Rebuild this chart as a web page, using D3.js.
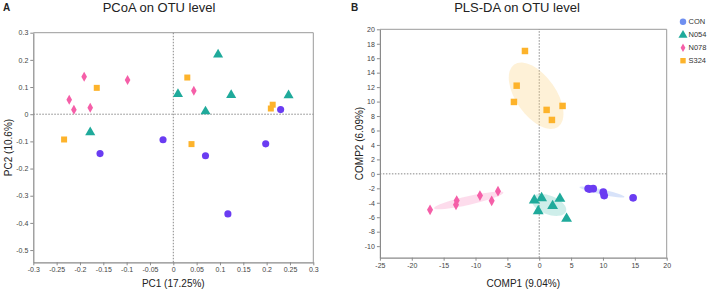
<!DOCTYPE html>
<html><head><meta charset="utf-8">
<script src="https://cdn.jsdelivr.net/npm/d3@7"></script>
<style>body{margin:0;background:#fff;} text{font-family:"Liberation Sans",Arial,sans-serif;}</style>
</head><body>
<svg id="chart" width="708" height="291"></svg>
<script>
// ---------- DATA ----------
const groups = ["CON", "N054", "N078", "S324"];
const groupColors = ["#6a3cf2", "#1faa9b", "#f55fa8", "#fdb32b"];
const legendColors = ["#6f8ff0", "#1faa9b", "#f55fa8", "#fdb32b"];
const ellipseColors = ["#7fa2ee", "#5cc8bb", "#f98cc0", "#fbcf7c"];

// Panel A: PCoA
const pcoaX = {
  CON:  [0.230, -0.022, -0.157, 0.198, 0.069, 0.117],
  N054: [0.096, 0.010, 0.124, 0.247, 0.069, -0.178],
  N078: [-0.191, -0.098, -0.223, -0.213, -0.178, 0.044],
  S324: [-0.164, 0.030, -0.234, 0.039, 0.213, 0.209]
};
const pcoaY = {
  CON:  [0.017, -0.094, -0.145, -0.109, -0.153, -0.367],
  N054: [0.221, 0.076, 0.072, 0.071, 0.012, -0.065],
  N078: [0.138, 0.126, 0.053, 0.016, 0.024, 0.086],
  S324: [0.097, 0.135, -0.093, -0.110, 0.035, 0.021]
};
const pcoaXTicks = [-0.3, -0.25, -0.2, -0.15, -0.1, -0.05, 0, 0.05, 0.1, 0.15, 0.2, 0.25, 0.3];
const pcoaYTicks = [-0.5, -0.4, -0.3, -0.2, -0.1, 0, 0.1, 0.2, 0.3];

// Panel B: PLS-DA
const plsX = {
  CON:  [7.68, 8.47, 10.05, 10.19, 14.73, 7.9],
  N054: [-0.78, 0.37, 3.24, 2.10, -0.16, 4.29],
  N078: [-17.13, -12.95, -13.06, -9.30, -7.46, -6.47],
  S324: [-2.24, -3.54, -3.97, 1.16, 3.66, 1.99]
};
const plsY = {
  CON:  [-2.03, -2.05, -2.53, -3.00, -3.32, -2.1],
  N054: [-3.60, -3.27, -3.37, -4.37, -5.07, -6.13],
  N078: [-4.98, -3.69, -4.28, -3.00, -3.73, -2.40],
  S324: [17.0, 12.2, 9.95, 8.85, 9.40, 7.46]
};
const plsXTicks = [-25, -20, -15, -10, -5, 0, 5, 10, 15, 20];
const plsYTicks = [-10, -8, -6, -4, -2, 0, 2, 4, 6, 8, 10, 12, 14, 16, 18, 20];

// ---------- DRAW ----------
const svg = d3.select("#chart");
const axisColor = "#8a8a8a";
const tickTextColor = "#444";

function symbolFor(g) {
  if (g === "CON") return d3.symbolCircle;
  if (g === "N054") return d3.symbolTriangle;
  if (g === "S324") return d3.symbolSquare;
  return null;
}
function drawMarker(sel, g, color, cx, cy, scale) {
  if (g === "N078") {
    const w = 2.8 * scale, h = 5 * scale;
    sel.append("path").attr("d", `M${cx},${cy - h}L${cx + w},${cy}L${cx},${cy + h}L${cx - w},${cy}Z`).attr("fill", color);
  } else {
    const size = g === "CON" ? 40 : g === "N054" ? 44 : 36;
    sel.append("path").attr("d", d3.symbol().type(symbolFor(g)).size(size * scale * scale)())
      .attr("transform", `translate(${cx},${cy + (g === "N054" ? 0.5 : 0)})`).attr("fill", color);
  }
}

function drawPanel(cfg) {
  const g = svg.append("g");
  const x = d3.scaleLinear().domain(cfg.xDomain).range(cfg.xRange);
  const y = d3.scaleLinear().domain(cfg.yDomain).range(cfg.yRange);
  const [x0, x1] = cfg.xRange, [y0, y1] = cfg.yRange;

  // frame top/right
  g.append("path").attr("d", `M${x0},${y1}H${x1}V${y0}`).attr("fill", "none").attr("stroke", "#9a9a9a").attr("stroke-width", 1);

  // zero lines
  g.append("line").attr("x1", x(0)).attr("x2", x(0)).attr("y1", y0).attr("y2", y1)
    .attr("stroke", "#888").attr("stroke-dasharray", "1.5,1.5").attr("stroke-width", 1);
  g.append("line").attr("x1", x0).attr("x2", x1).attr("y1", y(0)).attr("y2", y(0))
    .attr("stroke", "#888").attr("stroke-dasharray", "1.5,1.5").attr("stroke-width", 1);

  // axes
  const xa = g.append("g").attr("transform", `translate(0,${y0})`)
    .call(d3.axisBottom(x).tickValues(cfg.xTicks).tickSize(3).tickPadding(2).tickSizeOuter(0).tickFormat(d => String(d)));
  const ya = g.append("g").attr("transform", `translate(${x0},0)`)
    .call(d3.axisLeft(y).tickValues(cfg.yTicks).tickSize(3).tickPadding(2).tickSizeOuter(0).tickFormat(d => String(d)));
  [xa, ya].forEach(a => {
    a.select(".domain").attr("stroke", axisColor).attr("stroke-width", 1.2);
    a.selectAll(".tick line").attr("stroke", axisColor);
    a.selectAll(".tick text").attr("fill", tickTextColor).style("font-size", "7px").style("font-family", "Liberation Sans, Arial, sans-serif");
  });

  // ellipses
  if (cfg.ellipse) {
    groups.forEach((grp, gi) => {
      const pts = cfg.xs[grp].map((v, i) => [x(v), y(cfg.ys[grp][i])]);
      const n = pts.length;
      const mx = d3.mean(pts, p => p[0]), my = d3.mean(pts, p => p[1]);
      let sxx = 0, syy = 0, sxy = 0;
      pts.forEach(p => { const dx = p[0] - mx, dy = p[1] - my; sxx += dx * dx; syy += dy * dy; sxy += dx * dy; });
      sxx /= (n - 1); syy /= (n - 1); sxy /= (n - 1);
      const tr = sxx + syy, det = sxx * syy - sxy * sxy;
      const disc = Math.sqrt(Math.max(0, tr * tr / 4 - det));
      const l1 = tr / 2 + disc, l2 = Math.max(0, tr / 2 - disc);
      const ang = Math.atan2(l1 - sxx, sxy) * 180 / Math.PI;
      const k = 1.35;
      g.append("ellipse").attr("cx", mx).attr("cy", my)
        .attr("rx", k * Math.sqrt(l1)).attr("ry", Math.max(2.5, k * Math.sqrt(l2)))
        .attr("transform", `rotate(${ang},${mx},${my})`)
        .attr("fill", ellipseColors[gi]).attr("fill-opacity", 0.3);
    });
  }

  // points
  groups.forEach((grp, gi) => {
    cfg.xs[grp].forEach((v, i) => drawMarker(g, grp, groupColors[gi], x(v), y(cfg.ys[grp][i]), cfg.markerScale));
  });

  // labels
  g.append("text").attr("x", (x0 + x1) / 2).attr("y", 287).attr("text-anchor", "middle")
    .style("font-size", "10px").attr("fill", "#222").text(cfg.xLabel);
  g.append("text").attr("transform", `translate(${cfg.yLabelX},${(y0 + y1) / 2}) rotate(-90)`).attr("text-anchor", "middle")
    .style("font-size", "10px").attr("fill", "#222").text(cfg.yLabel);
  g.append("text").attr("x", cfg.titleX).attr("y", 12).attr("text-anchor", "middle")
    .style("font-size", "13px").attr("fill", "#222").text(cfg.title);
  g.append("text").attr("x", cfg.letterX).attr("y", 11).style("font-size", "10px").style("font-weight", "bold")
    .attr("fill", "#222").text(cfg.letter);
}

drawPanel({
  xDomain: [-0.3, 0.3], xRange: [33.3, 313.3],
  yDomain: [-0.545, 0.3], yRange: [262.3, 32.7],
  xTicks: pcoaXTicks, yTicks: pcoaYTicks,
  xs: pcoaX, ys: pcoaY, ellipse: false, markerScale: 1,
  xLabel: "PC1 (17.25%)", yLabel: "PC2 (10.6%)", yLabelX: 12,
  title: "PCoA on OTU level", titleX: 159, letter: "A", letterX: 3
});
drawPanel({
  xDomain: [-25, 20], xRange: [379.9, 666.7],
  yDomain: [-11.6, 20], yRange: [257.7, 29.3],
  xTicks: plsXTicks, yTicks: plsYTicks,
  xs: plsX, ys: plsY, ellipse: true, markerScale: 1.08,
  xLabel: "COMP1 (9.04%)", yLabel: "COMP2 (6.09%)", yLabelX: 363,
  title: "PLS-DA on OTU level", titleX: 517, letter: "B", letterX: 351
});

// legend
const leg = svg.append("g");
groups.forEach((grp, gi) => {
  const ly = 21.7 + gi * 13;
  const s = grp === "N078" ? 0.85 : 0.9;
  drawMarker(leg, grp, legendColors[gi], 683, ly, s);
  leg.append("text").attr("x", 688.5).attr("y", ly + 2.6).style("font-size", "7.5px").attr("fill", "#333").text(grp);
});
</script>
</body></html>
